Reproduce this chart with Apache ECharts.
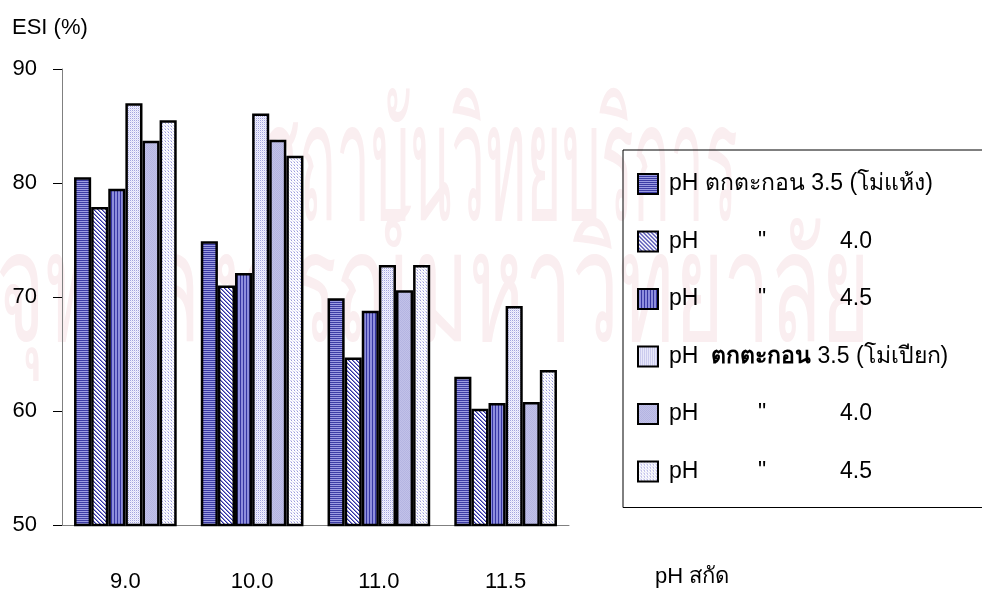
<!DOCTYPE html>
<html>
<head>
<meta charset="utf-8">
<script src="https://cdn.jsdelivr.net/npm/echarts@6/dist/echarts.min.js"></script>
<style>
  html, body { margin: 0; padding: 0; background: #ffffff; }
  #chart { width: 982px; height: 593px; }
</style>
</head>
<body>
<div id="chart"></div>
<script>
// pH used for extraction (x-axis categories)
const categories = ['9.0', '10.0', '11.0', '11.5'];
const yTicks = [50, 60, 70, 80, 90];

// ESI (%) for each precipitation pH, dry-milled and wet-milled
const dryPH35 = [80.5, 74.9, 69.9, 63.0];
const dryPH40 = [77.9, 71.0, 64.7, 60.2];
const dryPH45 = [79.5, 72.1, 68.8, 60.7];
const wetPH35 = [87.0, 86.1, 72.8, 69.2];
const wetPH40 = [83.7, 83.8, 70.6, 60.8];
const wetPH45 = [85.5, 82.4, 72.8, 63.6];

const seriesNames = [
  'pH ตกตะกอน 3.5 (โม่แห้ง)',
  'pH ตกตะกอน 4.0 (โม่แห้ง)',
  'pH ตกตะกอน 4.5 (โม่แห้ง)',
  'pH ตกตะกอน 3.5 (โม่เปียก)',
  'pH ตกตะกอน 4.0 (โม่เปียก)',
  'pH ตกตะกอน 4.5 (โม่เปียก)'
];
const seriesData = [dryPH35, dryPH40, dryPH45, wetPH35, wetPH40, wetPH45];

// Legend text as shown (ditto marks repeat the previous wording)
const legendLabels = [
  'pH ตกตะกอน 3.5 (โม่แห้ง)',
  '{a|pH}{b|"}{c|4.0}',
  '{a|pH}{b|"}{c|4.5}',
  'pH  {t|ตกตะกอน} 3.5 (โม่เปียก)',
  '{a|pH}{b|"}{c|4.0}',
  '{a|pH}{b|"}{c|4.5}'
];

// Small tiled canvases used as hatch fills
function tile(w, h, base, pixels) {
  const c = document.createElement('canvas');
  c.width = w; c.height = h;
  const g = c.getContext('2d');
  g.fillStyle = base;
  g.fillRect(0, 0, w, h);
  pixels.forEach(function (p) {
    g.fillStyle = p[2];
    g.fillRect(p[0], p[1], 1, 1);
  });
  return { image: c, repeat: 'repeat' };
}

const fills = [
  // horizontal stripes
  tile(1, 2, '#9c9ce2', [[0, 0, '#3c3ca4']]),
  // diagonal hatching
  tile(4, 4, '#ffffff', [[0, 0, '#3030a0'], [1, 1, '#3030a0'], [2, 2, '#3030a0'], [3, 3, '#3030a0'],
                          [1, 0, '#8888d4'], [2, 1, '#8888d4'], [3, 2, '#8888d4'], [0, 3, '#8888d4']]),
  // vertical stripes
  tile(3, 1, '#8e8edc', [[0, 0, '#3636a2']]),
  // fine dots
  tile(2, 2, '#f2f2ff', [[0, 0, '#a4a4de'], [1, 1, '#dcdcf6']]),
  // light solid
  tile(2, 2, '#c2c2e8', [[0, 0, '#b4b4e2'], [1, 1, '#b4b4e2']]),
  // sparse dots
  tile(3, 3, '#ffffff', [[0, 0, '#9a9adc'], [1, 1, '#e4e4f8'], [2, 2, '#c8c8ee'], [0, 2, '#e8e8fa']])
];

const FONT = "'Liberation Sans', Arial, 'Noto Sans', sans-serif";
const WATERMARK = '#faeef0';

const chart = echarts.init(document.getElementById('chart'), null, { renderer: 'canvas' });

const option = {
  backgroundColor: '#ffffff',
  animation: false,
  textStyle: { fontFamily: FONT },
  graphic: [
    {
      type: 'text', x: 262, y: 92, scaleX: 0.555, scaleY: 1.5, z: -10, silent: true,
      style: { text: 'สถาบันวิทยบริการ', fill: WATERMARK, font: "110px " + FONT }
    },
    {
      type: 'text', x: -4, y: 222, scaleX: 0.76, scaleY: 1.4, z: -10, silent: true,
      style: { text: 'จุฬาลงกรณ์มหาวิทยาลัย', fill: WATERMARK, font: "110px " + FONT }
    },
    {
      // x-axis title, below the legend
      type: 'text', x: 655, y: 566, silent: true,
      style: { text: 'pH สกัด', fill: '#000000', font: "22px " + FONT }
    }
  ],
  grid: { left: 62, right: 413, top: 69, bottom: 68, containLabel: false },
  legend: {
    orient: 'vertical',
    left: 623,
    top: 150,
    padding: [22, 80, 24, 14],
    borderColor: '#000000',
    borderWidth: 1,
    backgroundColor: 'rgba(255,255,255,0)',
    icon: 'rect',
    itemWidth: 20,
    itemHeight: 20,
    itemGap: 33.5,
    selectedMode: false,
    data: seriesNames,
    formatter: function (name) { return legendLabels[seriesNames.indexOf(name)]; },
    textStyle: {
      fontFamily: FONT,
      fontSize: 23,
      color: '#000000',
      lineHeight: 24,
      padding: [0, 0, 0, 6],
      rich: {
        a: { fontSize: 23, fontFamily: FONT, width: 89 },
        b: { fontSize: 23, fontFamily: FONT, width: 82 },
        c: { fontSize: 23, fontFamily: FONT },
        t: { fontSize: 23, fontFamily: FONT, fontWeight: 'bold' }
      }
    }
  },
  xAxis: {
    type: 'category',
    data: categories,
    axisLine: { lineStyle: { color: '#808080', width: 1 } },
    axisTick: { show: false },
    axisLabel: { fontSize: 22, color: '#000000', margin: 46, fontFamily: FONT },
    splitLine: { show: false }
  },
  yAxis: {
    type: 'value',
    min: yTicks[0],
    max: yTicks[yTicks.length - 1],
    interval: 10,
    name: 'ESI (%)',
    nameLocation: 'end',
    nameGap: 30,
    nameTextStyle: { fontSize: 22, color: '#000000', fontFamily: FONT, align: 'left', padding: [0, 0, 0, -50] },
    axisLine: { show: true, lineStyle: { color: '#808080', width: 1 } },
    axisTick: { show: true, inside: false, length: 9, lineStyle: { color: '#000000' } },
    axisLabel: { fontSize: 22, color: '#000000', margin: 25, fontFamily: FONT },
    splitLine: { show: false }
  },
  series: seriesNames.map(function (name, i) {
    return {
      name: name,
      type: 'bar',
      data: seriesData[i],
      barGap: '0%',
      barCategoryGap: '19%',
      itemStyle: { color: fills[i], borderColor: '#000000', borderWidth: 2.5 }
    };
  })
};

chart.setOption(option);
</script>
</body>
</html>
